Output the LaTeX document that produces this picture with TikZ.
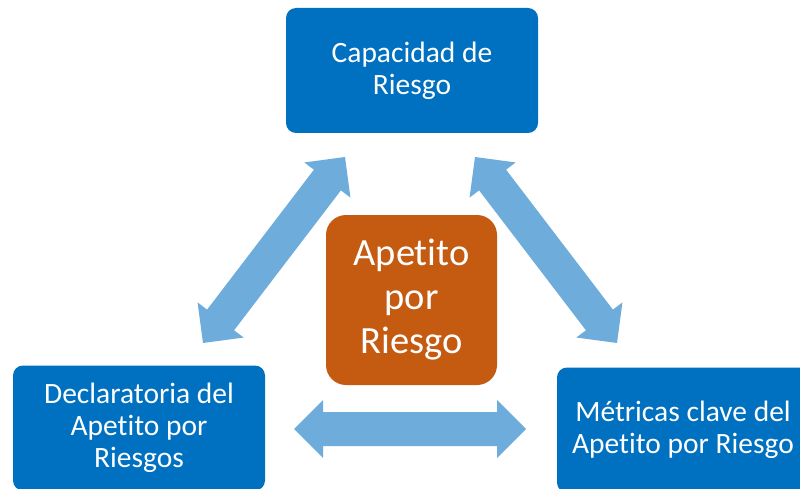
\documentclass[tikz,border=0pt]{standalone}
\usepackage{fontspec}
\setmainfont[Ligatures={NoCommon}]{Carlito}
\usetikzlibrary{calc}
\definecolor{boxblue}{HTML}{0070C0}
\definecolor{arrowblue}{HTML}{6EADDB}
\definecolor{centerorange}{HTML}{C55A11}
\tikzset{
  bluebox/.style={fill=boxblue, rounded corners=10pt, minimum width=252pt, minimum height=125pt,
    inner sep=0pt, align=center, text=white, font=\fontsize{29.5}{32}\selectfont},
  centerbox/.style={fill=centerorange, rounded corners=20pt, minimum width=171pt, minimum height=170pt,
    inner sep=0pt, align=center, text=white, font=\fontsize{38.5}{44}\selectfont},
  arrowfill/.style={fill=arrowblue}
}
\newcommand\dblarr[2]{%
  \fill[arrowfill] (#1)
   -- ($(#1)!29pt!(#2)!29pt!90:(#2)$)
   -- ($(#1)!29pt!(#2)!17pt!90:(#2)$)
   -- ($(#2)!29pt!(#1)!17pt!-90:(#1)$)
   -- ($(#2)!29pt!(#1)!29pt!-90:(#1)$)
   -- (#2)
   -- ($(#2)!29pt!(#1)!29pt!90:(#1)$)
   -- ($(#2)!29pt!(#1)!17pt!90:(#1)$)
   -- ($(#1)!29pt!(#2)!17pt!-90:(#2)$)
   -- ($(#1)!29pt!(#2)!29pt!-90:(#2)$)
   -- cycle;}
\begin{document}
\begin{tikzpicture}[x=1pt,y=-1pt]
\useasboundingbox (0,0) rectangle (800,489);
\clip (0,0) rectangle (800,489);
\node[bluebox] (cap) at (412,70.5) {Capacidad de\\Riesgo};
\node[bluebox] (dec) at (139,428) {Declaratoria del\\Apetito por\\Riesgos};
\node[bluebox] (met) at (683,430) {Métricas clave del\\Apetito por Riesgo};
\node[centerbox] (ape) at (411.5,300) {Apetito\\por\\Riesgo};
\coordinate (l1) at (203,343);
\coordinate (l2) at (345,157);
\coordinate (r1) at (475,157);
\coordinate (r2) at (617,343);
\coordinate (h1) at (294,429);
\coordinate (h2) at (526,429);
\dblarr{l1}{l2}
\dblarr{r1}{r2}
\dblarr{h1}{h2}
\end{tikzpicture}
\end{document}
